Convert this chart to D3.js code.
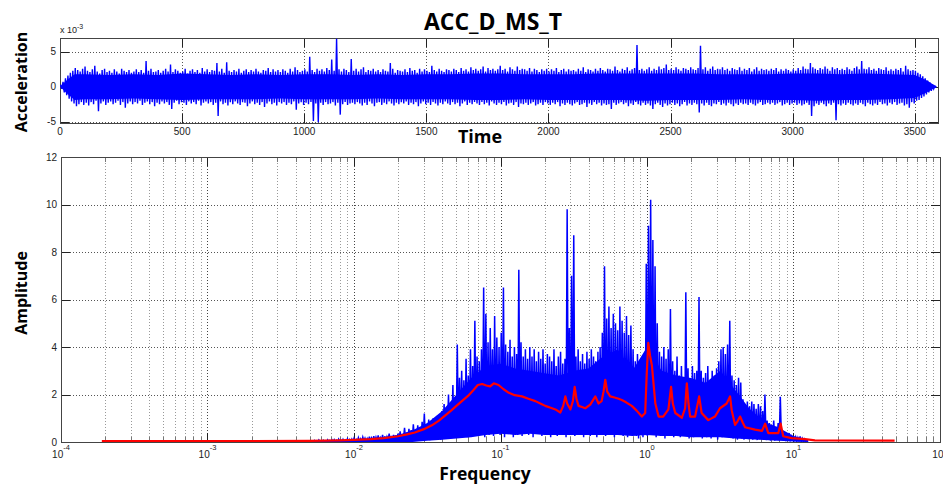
<!DOCTYPE html>
<html>
<head>
<meta charset="utf-8">
<script src="https://d3js.org/d3.v7.min.js"></script>
<style>
  body { margin: 0; background: #fff; }
  svg { display: block; }
  .tick-label { font-family: "Liberation Sans", Arial, sans-serif; font-size: 10px; fill: #222; }
  .axis-title { font-family: "Open Sans", sans-serif; font-weight: bold; fill: #000; }
</style>
</head>
<body>
<svg id="chart" width="943" height="485"></svg>
<script>
// time signal, envelope per 10 s bin (units of 1e-3)
const accTimeStep = 10;
const accMax = [
  0.3,0.7,1.2,1.6,2.0,2.3,2.7,2.4,2.2,2.6,
  2.9,2.3,2.1,2.5,3.0,2.2,1.9,2.4,2.6,2.1,
  2.3,2.0,2.5,2.2,1.9,2.6,2.3,2.1,2.4,2.0,
  2.2,2.5,2.1,2.4,2.0,3.7,2.3,2.6,2.1,2.2,
  2.4,2.0,2.3,2.6,2.2,3.2,2.1,2.5,2.3,2.0,
  2.2,2.6,1.9,2.3,2.5,2.1,2.4,2.0,2.7,2.2,
  2.5,2.1,2.4,2.3,3.4,2.2,2.6,2.0,3.5,2.3,
  2.1,2.4,2.2,2.6,2.0,2.3,2.5,2.1,2.4,2.2,
  2.6,2.2,2.0,2.4,2.3,2.7,2.1,2.5,2.2,2.4,
  2.1,2.5,2.3,2.0,2.6,2.2,2.8,2.4,2.1,2.3,
  2.5,2.2,4.3,2.4,2.1,2.6,2.3,2.5,2.2,2.7,
  2.4,3.9,2.3,6.9,2.5,2.2,2.6,2.4,2.1,4.0,
  2.3,2.6,2.2,2.5,2.8,2.1,2.4,2.3,2.6,2.2,
  2.4,2.1,2.5,2.3,2.2,3.4,2.6,2.0,2.4,2.3,
  2.2,2.5,2.1,2.7,2.3,2.4,2.0,2.6,2.2,2.5,
  2.3,2.1,3.0,2.4,2.2,2.6,2.3,2.1,2.5,2.4,
  2.2,2.6,2.4,2.1,2.7,2.3,2.5,2.2,2.8,2.4,
  2.6,2.3,2.5,2.9,2.2,2.7,2.4,2.6,2.3,2.5,
  3.0,2.4,2.6,2.2,2.8,2.5,2.3,2.9,2.4,2.6,
  2.5,2.3,2.7,2.2,2.6,2.4,2.1,2.5,2.3,2.6,
  2.2,2.5,2.3,2.7,2.1,2.4,2.6,2.2,2.5,2.3,
  2.4,2.2,2.6,2.3,2.8,2.1,2.5,2.4,2.2,2.6,
  2.3,2.7,2.4,2.2,2.6,2.5,2.3,2.9,2.4,2.2,
  2.6,2.4,2.8,2.3,2.5,2.7,6.0,2.4,2.6,2.3,
  2.5,2.8,2.3,2.6,2.4,2.9,2.5,2.7,3.2,2.4,
  2.6,2.4,2.8,2.5,2.3,2.7,2.6,2.4,2.8,2.5,
  2.4,2.7,5.9,2.5,2.8,2.3,2.6,2.9,2.4,2.6,
  2.5,2.8,2.4,2.6,2.3,2.7,2.5,2.4,2.8,2.3,
  2.6,2.4,2.7,2.2,2.5,2.8,2.3,2.6,2.4,2.5,
  2.3,2.6,2.4,2.7,2.2,2.5,2.3,2.6,2.4,2.2,
  2.5,2.3,2.7,2.4,2.9,2.6,2.5,3.4,2.8,2.6,
  2.4,2.7,2.5,2.9,2.6,2.3,2.8,2.5,2.7,2.4,
  2.6,2.4,2.8,2.5,2.3,2.7,2.9,2.5,3.7,2.6,
  2.5,2.8,2.4,2.6,2.3,2.7,2.5,2.4,2.8,2.3,
  2.5,2.3,2.6,2.4,2.7,2.2,3.0,2.5,2.3,2.4,
  2.3,2.0,1.8,1.5,1.2,0.9,0.6,0.35,0.1
];
const accMin = [
  -0.3,-0.8,-1.2,-1.7,-2.1,-2.4,-2.8,-2.5,-2.2,-2.6,
  -2.3,-2.7,-2.2,-2.5,-2.0,-3.5,-2.4,-2.1,-2.6,-2.3,
  -2.1,-2.5,-2.3,-2.0,-2.6,-2.2,-3.0,-2.4,-2.1,-2.5,
  -2.2,-2.4,-2.0,-2.6,-2.3,-2.1,-2.5,-2.2,-2.8,-2.3,
  -2.5,-2.1,-2.4,-2.2,-2.6,-3.2,-2.3,-2.0,-2.5,-2.2,
  -2.3,-2.6,-2.1,-2.4,-2.2,-2.5,-2.0,-2.7,-2.3,-2.1,
  -2.4,-2.2,-2.6,-2.3,-4.2,-2.1,-2.5,-2.3,-2.7,-2.2,
  -2.5,-2.1,-2.4,-2.6,-2.2,-2.3,-2.8,-2.4,-2.1,-2.5,
  -2.3,-2.6,-2.2,-2.9,-2.4,-2.1,-2.5,-2.3,-2.7,-2.2,
  -2.4,-2.2,-2.6,-2.3,-2.5,-2.1,-3.3,-2.4,-2.2,-2.6,
  -2.3,-2.5,-2.2,-4.9,-2.4,-5.1,-2.3,-2.6,-2.2,-2.5,
  -2.4,-2.2,-2.7,-2.3,-4.0,-2.5,-2.2,-2.6,-2.4,-2.3,
  -2.5,-2.2,-2.4,-2.7,-2.3,-2.6,-2.1,-2.4,-2.8,-2.3,
  -2.2,-2.6,-2.3,-2.5,-2.1,-2.4,-2.7,-2.3,-2.5,-2.2,
  -2.4,-2.1,-2.6,-2.3,-2.5,-2.2,-2.8,-2.4,-2.1,-2.5,
  -2.3,-2.6,-2.2,-2.4,-2.7,-2.3,-2.5,-2.1,-2.4,-2.6,
  -2.2,-2.5,-2.3,-2.8,-2.4,-2.1,-2.6,-2.3,-2.5,-2.2,
  -2.4,-2.6,-2.2,-2.5,-2.3,-2.7,-2.1,-2.4,-2.6,-2.3,
  -2.5,-2.2,-2.7,-2.4,-2.3,-2.6,-2.2,-2.9,-2.4,-2.5,
  -2.3,-2.6,-2.4,-2.2,-2.7,-2.5,-2.3,-2.6,-2.2,-2.4,
  -2.6,-2.3,-2.5,-2.2,-2.8,-2.4,-2.6,-2.3,-2.5,-2.7,
  -2.4,-2.2,-2.6,-2.5,-2.3,-2.9,-2.4,-2.6,-2.2,-2.5,
  -2.3,-2.7,-2.4,-2.6,-2.5,-3.2,-2.3,-2.6,-2.4,-2.2,
  -2.5,-2.3,-2.8,-2.4,-2.6,-2.2,-2.5,-2.7,-2.3,-2.6,
  -2.4,-2.7,-3.2,-2.5,-2.3,-2.6,-2.9,-2.4,-2.7,-2.5,
  -2.3,-2.6,-2.4,-2.8,-2.5,-2.2,-2.7,-2.4,-2.6,-2.3,
  -2.5,-3.7,-2.4,-2.7,-2.3,-2.6,-2.8,-2.4,-2.5,-2.2,
  -2.6,-2.4,-2.7,-2.3,-2.5,-2.8,-2.4,-2.6,-2.3,-2.5,
  -2.4,-2.6,-2.3,-2.5,-2.7,-2.4,-2.2,-2.6,-2.5,-2.3,
  -2.5,-2.3,-2.6,-2.4,-2.2,-2.7,-2.5,-2.3,-2.6,-2.4,
  -2.3,-2.6,-2.4,-2.7,-2.5,-2.3,-2.6,-4.2,-2.8,-2.4,
  -2.6,-2.3,-2.5,-2.8,-2.4,-2.6,-2.3,-4.8,-2.5,-2.7,
  -2.4,-2.6,-2.3,-2.5,-2.7,-2.4,-2.6,-2.3,-2.5,-2.8,
  -2.3,-2.5,-2.7,-2.4,-2.6,-2.2,-2.5,-2.4,-2.7,-2.3,
  -2.5,-2.2,-2.6,-2.4,-2.3,-2.7,-2.5,-3.0,-2.2,-2.4,
  -2.0,-1.9,-1.6,-1.4,-1.1,-0.8,-0.6,-0.3,-0.1
];
// dense (solid) part of the time signal band
const accCoreT = [0,30,60,100,200,300,400,500,600,700,800,900,1000,1100,1200,1300,1400,1500,1600,1700,1800,1900,2000,2100,2200,2300,2400,2500,2600,2700,2800,2900,3000,3100,3200,3300,3400,3500,3550,3590];
const accCoreHi = [0,1.0,1.8,1.8,1.7,1.8,1.7,1.9,1.8,1.7,1.8,1.7,1.8,1.8,1.7,1.8,1.7,1.8,1.8,1.9,1.9,1.8,1.8,1.8,1.9,1.9,1.9,1.9,1.9,1.8,1.8,1.8,1.9,1.9,1.8,1.9,1.8,1.7,0.9,0];
const accCoreLo = [0,-1.0,-1.9,-1.8,-1.8,-1.7,-1.8,-1.9,-1.8,-1.8,-1.8,-1.7,-1.8,-1.8,-1.8,-1.7,-1.8,-1.8,-1.8,-1.9,-1.9,-1.8,-1.9,-1.9,-1.9,-1.9,-2.0,-1.9,-1.9,-1.9,-1.8,-1.9,-1.9,-2.0,-1.9,-1.9,-1.8,-1.6,-0.8,0];
const timeTicks = [0, 500, 1000, 1500, 2000, 2500, 3000, 3500];
const accTicks = [-5, 0, 5];

// spectrum envelope, bins of 0.015 in log10(frequency) from 10^-2.3
const specLogStart = -2.3;
const specLogStep = 0.015;
const specMax = [
  0.04,0.03,0.06,0.05,0.08,0.04,0.07,0.05,0.09,0.06,
  0.08,0.1,0.07,0.12,0.09,0.11,0.08,0.13,0.1,0.12,
  0.15,0.1,0.18,0.13,0.2,0.16,0.14,0.22,0.17,0.25,
  0.2,0.28,0.18,0.3,0.24,0.22,0.35,0.26,0.3,0.28,
  0.35,0.45,0.3,0.6,0.4,0.55,0.5,0.75,0.45,0.7,
  0.6,0.85,1.2,0.7,0.95,0.8,1.0,0.75,1.1,0.9,
  1.3,1.6,1.2,2.0,1.5,2.4,1.9,4.1,2.7,3.0,
  2.6,3.5,2.8,3.9,3.2,5.1,3.6,3.4,3.9,6.5,
  5.4,4.2,4.8,3.9,5.3,4.4,4.0,4.6,6.5,4.1,
  3.8,4.3,3.6,4.0,3.7,7.25,4.2,3.6,3.9,3.5,
  4.0,3.6,3.9,3.4,3.8,3.5,3.9,3.3,3.7,3.6,
  3.4,3.9,3.2,3.6,3.8,3.3,3.5,9.8,4.8,7.0,
  8.7,3.6,3.9,3.4,3.7,3.3,3.8,3.5,3.9,3.6,
  3.4,3.8,4.0,4.6,7.4,5.2,5.7,4.8,5.4,5.0,
  4.7,5.7,5.1,4.6,5.3,4.5,4.9,3.9,3.4,3.7,
  2.9,3.5,3.2,7.5,9.1,10.2,8.5,7.4,5.0,3.8,
  3.6,4.0,3.5,3.9,5.6,3.4,3.0,3.6,2.8,3.2,
  2.7,6.3,3.1,2.6,3.2,2.9,3.0,6.1,3.0,2.7,
  2.9,3.2,2.5,3.0,2.8,3.1,3.4,3.9,4.0,3.7,
  4.1,5.1,2.8,2.6,2.4,2.7,2.5,1.8,1.6,1.7,
  1.5,1.7,1.6,1.4,1.6,1.5,1.3,2.0,0.9,0.8,
  0.7,0.9,0.65,0.8,1.9,0.45,0.4,0.35,0.38,0.3,
  0.25,0.2,0.18,0.24,0.15,0.12,0.08
];
const specMin = [
  0,0,0,0,0,0,0,0,0,0,
  0,0.01,0,0.02,0,0.01,0,0.02,0.01,0,
  0.02,0,0.03,0.01,0.04,0.02,0,0.05,0.02,0.03,
  0.04,0.02,0.06,0.03,0.05,0.08,0.04,0.07,0.05,0.1,
  0.08,0.05,0.12,0.06,0.1,0.15,0.07,0.12,0.09,0.2,
  0.1,0.18,0.12,0.25,0.08,0.2,0.3,0.15,0.22,0.1,
  0.3,0.15,0.4,0.2,0.5,0.25,0.35,0.18,0.6,0.3,
  0.4,0.2,0.7,0.3,0.5,0.25,0.8,0.35,0.45,0.2,
  0.5,0.3,0.9,0.25,0.6,0.4,0.3,0.7,0.2,0.5,
  0.35,0.6,0.2,0.45,0.3,0.8,0.25,0.5,0.4,0.3,
  0.6,0.2,0.45,0.35,0.7,0.25,0.5,0.3,0.4,0.2,
  0.35,0.5,0.25,0.6,0.3,0.4,0.2,0.55,0.3,0.45,
  0.25,0.4,0.6,0.3,0.2,0.5,0.35,0.25,0.45,0.3,
  0.2,0.4,0.3,0.55,0.25,0.35,0.6,0.3,0.2,0.45,
  0.3,0.5,0.25,0.4,0.2,0.35,0.6,0.3,0.25,0.15,
  0.3,0.2,0.4,0.25,0.35,0.5,0.3,0.2,0.4,0.25,
  0.3,0.15,0.35,0.25,0.4,0.2,0.3,0.45,0.2,0.3,
  0.25,0.4,0.15,0.3,0.2,0.35,0.25,0.4,0.15,0.3,
  0.2,0.35,0.15,0.3,0.25,0.1,0.3,0.2,0.35,0.25,
  0.3,0.2,0.15,0.25,0.1,0.2,0.15,0.1,0.2,0.12,
  0.15,0.1,0.2,0.08,0.12,0.15,0.1,0.08,0.12,0.06,
  0.1,0.05,0.08,0.06,0.1,0.05,0.04,0.06,0.03,0.05,
  0.03,0.02,0.04,0.02,0.01,0.02,0.01
];
// dense (solid) part of the spectrum, every 0.1 in log10(frequency) from 10^-2.3
const specCoreStep = 0.1;
const specCoreHi = [0.03,0.05,0.07,0.1,0.14,0.2,0.3,0.5,0.8,1.3,2.0,2.7,3.2,3.3,3.1,3.0,2.9,2.8,3.0,3.1,3.6,3.9,3.0,4.0,3.0,2.8,2.7,2.5,3.0,2.2,1.4,0.85,0.6,0.25,0.08];
const specCoreLo = [0,0,0,0,0,0,0,0,0.05,0.1,0.15,0.2,0.3,0.35,0.3,0.35,0.3,0.3,0.3,0.3,0.3,0.3,0.25,0.3,0.25,0.25,0.2,0.2,0.2,0.15,0.12,0.08,0.05,0.02,0];

// smoothed spectrum (red)
const smoothFreq = [0.00019,0.002,0.005,0.008,0.01,0.013,0.016,0.02,0.023,0.026,0.03,0.034,0.038,0.042,0.046,0.05,0.055,0.06,0.065,0.07,0.075,0.08,0.085,0.09,0.097,0.105,0.114,0.125,0.14,0.155,0.173,0.19,0.202,0.22,0.237,0.256,0.268,0.277,0.285,0.30,0.312,0.321,0.33,0.341,0.36,0.379,0.41,0.444,0.467,0.49,0.505,0.519,0.535,0.561,0.6,0.64,0.673,0.72,0.787,0.85,0.922,0.972,0.995,1.02,1.05,1.08,1.14,1.2,1.29,1.4,1.46,1.5,1.56,1.73,1.82,1.87,1.92,1.97,2.13,2.27,2.36,2.62,2.91,3.15,3.5,3.69,3.79,3.99,4.15,4.32,4.5,4.67,5.47,6.1,6.4,6.73,7.87,8.17,8.51,9.7,12.0,14.0,49];
const smoothAmp = [0.02,0.02,0.03,0.05,0.07,0.1,0.14,0.22,0.3,0.38,0.52,0.68,0.88,1.1,1.3,1.5,1.72,1.92,2.15,2.38,2.42,2.36,2.32,2.45,2.38,2.2,2.05,1.95,1.9,1.8,1.7,1.58,1.5,1.42,1.35,1.22,1.5,1.9,1.6,1.35,1.7,2.3,1.8,1.5,1.45,1.4,1.55,1.9,1.6,1.7,2.1,2.6,2.1,1.9,1.85,1.8,1.75,1.65,1.5,1.3,1.05,1.2,2.8,4.15,3.6,3.2,1.6,1.05,1.05,1.35,2.3,1.6,1.2,1.0,1.4,2.45,1.6,1.05,1.05,1.9,1.2,0.9,1.05,1.4,1.6,1.9,1.3,0.7,0.85,1.05,0.8,0.6,0.5,0.45,0.75,0.35,0.35,0.75,0.22,0.14,0.1,0.05,0.04];

const freqDecades = [1e-4, 1e-3, 1e-2, 1e-1, 1e0, 1e1, 1e2];
const ampTicks = [0, 2, 4, 6, 8, 10, 12];

const svg = d3.select('#chart');
const defs = svg.append('defs');
const tickLen = 9;
const blue = '#0000ff';

function frame(g, x0, x1, y0, y1) {
    g.append('rect')
        .attr('x', x0).attr('y', y0)
        .attr('width', x1 - x0).attr('height', y1 - y0)
        .attr('fill', 'none')
        .attr('stroke', '#444')
        .attr('shape-rendering', 'crispEdges');
}

function vLine(g, x, y0, y1, color, dash) {
    g.append('line')
        .attr('x1', x).attr('x2', x).attr('y1', y0).attr('y2', y1)
        .attr('stroke', color)
        .attr('stroke-dasharray', dash)
        .attr('shape-rendering', 'crispEdges');
}

function hLine(g, y, x0, x1, color, dash) {
    g.append('line')
        .attr('x1', x0).attr('x2', x1).attr('y1', y).attr('y2', y)
        .attr('stroke', color)
        .attr('stroke-dasharray', dash)
        .attr('shape-rendering', 'crispEdges');
}

function clipRect(id, x, y, w, h) {
    defs.append('clipPath').attr('id', id)
        .append('rect').attr('x', x).attr('y', y).attr('width', w).attr('height', h);
}

// ---------- top: acceleration vs time ----------
const P1 = { left: 60, right: 938, top: 38, bottom: 123 };
const xTime = d3.scaleLinear().domain([0, 3595]).range([P1.left, P1.right]);
const yAcc = d3.scaleLinear().domain([-5.2, 7]).range([P1.bottom, P1.top]);

const g1 = svg.append('g');
clipRect('clip1', P1.left, P1.top, P1.right - P1.left, P1.bottom - P1.top);

timeTicks.forEach(t => {
    const x = Math.round(xTime(t)) + 0.5;
    if (t > 0) vLine(g1, x, P1.top, P1.bottom, '#555', '1,2');
    vLine(g1, x, P1.bottom, P1.bottom - tickLen, '#222', null);
    vLine(g1, x, P1.top, P1.top + tickLen, '#222', null);
    g1.append('text').attr('class', 'tick-label')
        .attr('x', xTime(t)).attr('y', P1.bottom + 12)
        .attr('text-anchor', 'middle')
        .text(t);
});
accTicks.forEach(v => {
    const y = Math.round(yAcc(v)) + 0.5;
    hLine(g1, y, P1.left, P1.right, '#555', '1,2');
    hLine(g1, y, P1.left, P1.left + tickLen, '#222', null);
    hLine(g1, y, P1.right, P1.right - tickLen, '#222', null);
    g1.append('text').attr('class', 'tick-label')
        .attr('x', P1.left - 4).attr('y', yAcc(v) + 3.5)
        .attr('text-anchor', 'end')
        .text(v);
});
frame(g1, P1.left + 0.5, P1.right + 0.5, P1.top + 0.5, P1.bottom + 0.5);

const accPoints = [];
accMax.forEach((v, i) => {
    accPoints.push([i * accTimeStep + 2.5, v]);
    accPoints.push([i * accTimeStep + 7.5, accMin[i]]);
});
const accLine = d3.line().x(d => xTime(d[0])).y(d => yAcc(d[1]));
g1.append('path')
    .datum(accPoints)
    .attr('clip-path', 'url(#clip1)')
    .attr('d', accLine)
    .attr('fill', 'none')
    .attr('stroke', blue)
    .attr('stroke-width', 1.4);

const accCore = d3.area()
    .x((d, i) => xTime(accCoreT[i]))
    .y0((d, i) => yAcc(accCoreLo[i]))
    .y1(d => yAcc(d));
g1.append('path')
    .datum(accCoreHi)
    .attr('clip-path', 'url(#clip1)')
    .attr('d', accCore)
    .attr('fill', blue);

const expLabel = g1.append('text').attr('class', 'tick-label')
    .attr('x', P1.left).attr('y', P1.top - 5)
    .style('font-size', '9px');
expLabel.append('tspan').text('x 10');
expLabel.append('tspan').attr('dy', -4).style('font-size', '7px').text('-3');

// ---------- bottom: amplitude spectrum ----------
const P2 = { left: 61, right: 940, top: 157, bottom: 442 };
const xFreq = d3.scaleLog().domain([1e-4, 1e2]).range([P2.left, P2.right]);
const yAmp = d3.scaleLinear().domain([0, 12]).range([P2.bottom, P2.top]);

const g2 = svg.append('g');
clipRect('clip2', P2.left, P2.top - 2, P2.right - P2.left, P2.bottom - P2.top + 2);

// minor log grid
freqDecades.slice(0, -1).forEach(d => {
    for (let k = 2; k <= 9; k++) {
        const x = Math.round(xFreq(d * k)) + 0.5;
        vLine(g2, x, P2.top, P2.bottom, '#999', '1,2');
        vLine(g2, x, P2.bottom, P2.bottom - 5, '#777', null);
        vLine(g2, x, P2.top, P2.top + 5, '#777', null);
    }
});
freqDecades.forEach((d, i) => {
    const x = Math.round(xFreq(d)) + 0.5;
    if (i > 0 && i < freqDecades.length - 1) vLine(g2, x, P2.top, P2.bottom, '#444', '1,2');
    vLine(g2, x, P2.bottom, P2.bottom - tickLen, '#222', null);
    vLine(g2, x, P2.top, P2.top + tickLen, '#222', null);
    const lbl = g2.append('text').attr('class', 'tick-label')
        .attr('x', xFreq(d)).attr('y', P2.bottom + 16)
        .attr('text-anchor', 'middle');
    lbl.append('tspan').text('10');
    lbl.append('tspan').attr('dy', -8).style('font-size', '7.5px').text(Math.round(Math.log10(d)));
});
ampTicks.forEach(v => {
    const y = Math.round(yAmp(v)) + 0.5;
    if (v > 0 && v < 12) hLine(g2, y, P2.left, P2.right, '#555', '1,2');
    hLine(g2, y, P2.left, P2.left + tickLen, '#222', null);
    hLine(g2, y, P2.right, P2.right - tickLen, '#222', null);
    g2.append('text').attr('class', 'tick-label')
        .attr('x', P2.left - 4).attr('y', yAmp(v) + 3.5)
        .attr('text-anchor', 'end')
        .text(v);
});
frame(g2, P2.left + 0.5, P2.right + 0.5, P2.top + 0.5, P2.bottom + 0.5);

const specPoints = [];
specMax.forEach((v, i) => {
    const lg = specLogStart + i * specLogStep;
    specPoints.push([Math.pow(10, lg), v]);
    specPoints.push([Math.pow(10, lg + specLogStep / 2), specMin[i]]);
});
const specLine = d3.line().x(d => xFreq(d[0])).y(d => yAmp(d[1]));
g2.append('path')
    .datum(specPoints)
    .attr('clip-path', 'url(#clip2)')
    .attr('d', specLine)
    .attr('fill', 'none')
    .attr('stroke', blue)
    .attr('stroke-width', 1.5);

const specCore = d3.area()
    .x((d, i) => xFreq(Math.pow(10, specLogStart + i * specCoreStep)))
    .y0((d, i) => yAmp(specCoreLo[i]))
    .y1(d => yAmp(d));
g2.append('path')
    .datum(specCoreHi)
    .attr('clip-path', 'url(#clip2)')
    .attr('d', specCore)
    .attr('fill', blue);

const smoothLine = d3.line()
    .x((d, i) => xFreq(smoothFreq[i]))
    .y(d => yAmp(d) - 0.5);
g2.append('path')
    .datum(smoothAmp)
    .attr('clip-path', 'url(#clip2)')
    .attr('d', smoothLine)
    .attr('fill', 'none')
    .attr('stroke', '#ff0000')
    .attr('stroke-width', 2.2)
    .attr('stroke-linejoin', 'round');

// ---------- titles ----------
svg.append('text').attr('class', 'axis-title')
    .attr('x', 493).attr('y', 30)
    .attr('text-anchor', 'middle')
    .style('font-size', '23px')
    .text('ACC_D_MS_T');
svg.append('text').attr('class', 'axis-title')
    .attr('x', 480).attr('y', 143)
    .attr('text-anchor', 'middle')
    .style('font-size', '18px')
    .text('Time');
svg.append('text').attr('class', 'axis-title')
    .attr('x', 485).attr('y', 480)
    .attr('text-anchor', 'middle')
    .style('font-size', '17.5px')
    .text('Frequency');
svg.append('text').attr('class', 'axis-title')
    .attr('transform', 'translate(27,82) rotate(-90)')
    .attr('text-anchor', 'middle')
    .style('font-size', '16px')
    .text('Acceleration');
svg.append('text').attr('class', 'axis-title')
    .attr('transform', 'translate(27,293) rotate(-90)')
    .attr('text-anchor', 'middle')
    .style('font-size', '16px')
    .text('Amplitude');
</script>
</body>
</html>
